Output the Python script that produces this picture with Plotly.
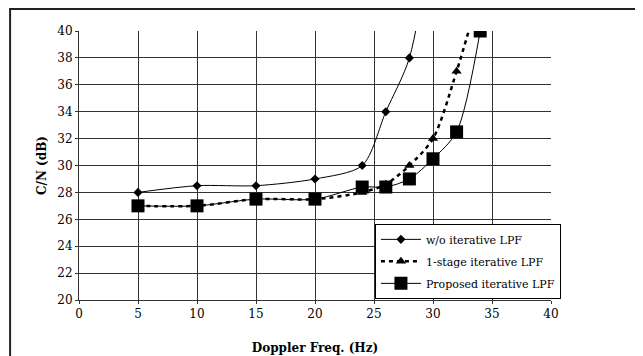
import plotly.graph_objects as go

x_wo = [5, 10, 15, 20, 24, 26, 28, 30]
y_wo = [28, 28.5, 28.5, 29, 30, 34, 38, 48]

x_one = [5, 10, 15, 20, 24, 26, 28, 30, 32, 34]
y_one = [27, 27, 27.5, 27.5, 28, 28.6, 30, 32, 37, 43]

x_prop = [5, 10, 15, 20, 24, 26, 28, 30, 32, 34]
y_prop = [27, 27, 27.5, 27.5, 28.4, 28.4, 29, 30.5, 32.5, 40]

names = ["w/o iterative LPF", "1-stage iterative LPF", "Proposed iterative LPF"]
x_ticks = [0, 5, 10, 15, 20, 25, 30, 35, 40]
y_ticks = [20, 22, 24, 26, 28, 30, 32, 34, 36, 38, 40]

FONT = "DejaVu Serif"

fig = go.Figure()
fig.add_trace(go.Scatter(x=x_wo, y=y_wo, name=names[0], mode="lines+markers", legendgroup="a",
                         line=dict(color="black", width=1, shape="spline", smoothing=0.8),
                         marker=dict(symbol="diamond", size=7, color="black")))
fig.add_trace(go.Scatter(x=x_one, y=y_one, name=names[1], mode="lines+markers", legendgroup="b",
                         line=dict(color="black", width=2.5, dash="4px,4px", shape="spline", smoothing=0.8),
                         marker=dict(symbol="triangle-up", size=9, color="black")))
fig.add_trace(go.Scatter(x=x_prop, y=y_prop, name=names[2], mode="lines+markers", legendgroup="c",
                         line=dict(color="black", width=1, shape="spline", smoothing=0.8),
                         marker=dict(symbol="square", size=13, color="black")))

fig.update_layout(
    width=635, height=356,
    margin=dict(l=71, r=92, t=23, b=64),
    paper_bgcolor="white", plot_bgcolor="white",
    font=dict(family=FONT, size=12, color="black"),
    showlegend=True,
    legend=dict(x=0.627, y=0.283, xanchor="left", yanchor="top",
                bgcolor="white", bordercolor="black", borderwidth=1,
                font=dict(family=FONT, size=11, color="black"),
                tracegroupgap=3, itemwidth=40),
    shapes=[dict(type="rect", xref="paper", yref="paper",
                 x0=-0.146, x1=1.3, y0=-0.4, y1=1.082,
                 line=dict(color="#222", width=2), layer="below")],
)
fig.update_xaxes(range=[0, 40], tickvals=x_ticks, showgrid=True, gridcolor="#333", gridwidth=1,
                 showline=True, linecolor="#333", mirror=False, ticks="outside", ticklen=3,
                 tickcolor="#333", zeroline=False,
                 title=dict(text="<b>Doppler Freq. (Hz)</b>", font=dict(family=FONT, size=12), standoff=23),
                 tickfont=dict(family=FONT, size=12))
fig.update_yaxes(range=[20, 40], tickvals=y_ticks, showgrid=True, gridcolor="#333", gridwidth=1,
                 showline=True, linecolor="#333", ticks="outside", ticklen=3, tickcolor="#333",
                 zeroline=False,
                 title=dict(text="<b>C/N (dB)</b>", font=dict(family=FONT, size=12), standoff=8),
                 tickfont=dict(family=FONT, size=12))

fig.write_html("out.html")
